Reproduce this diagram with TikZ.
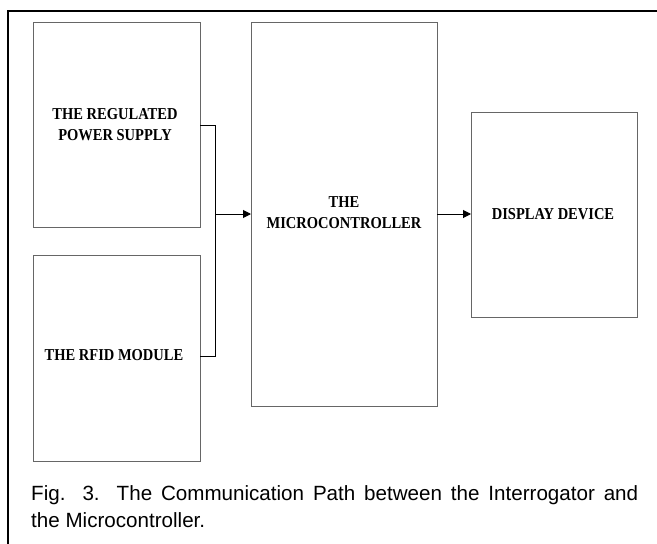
\documentclass[tikz,border=0pt]{standalone}
\usepackage{fontspec}
\setmainfont{Liberation Serif}
\newfontfamily\capfont{Liberation Sans}
\usetikzlibrary{arrows.meta}
\newcommand{\tallbox}[1]{\scalebox{1}[1.15]{\begin{tabular}{@{}c@{}}#1\end{tabular}}}
\begin{document}
\begin{tikzpicture}[x=1pt,y=-1pt,
  blockbox/.style={draw=black!60, line width=1pt},
  blocklabel/.style={font=\fontsize{14.5}{18}\selectfont\bfseries, inner sep=0pt},
  conn/.style={draw=black, line width=1pt},
  arr/.style={conn, -{Triangle[length=8pt,width=8pt]}}]
\useasboundingbox (0,0) rectangle (657,544);
\fill[white] (0,0) rectangle (657,544);
% outer frame
\coordinate (fbl) at (8,544);
\coordinate (ftl) at (8,11);
\coordinate (ftr) at (657,11);
\draw[line width=2pt] (fbl) -- (ftl) -- (ftr);
% blocks
\draw[blockbox] (33,22) rectangle (200,227);
\draw[blockbox] (33,255) rectangle (200,461);
\draw[blockbox] (251,22) rectangle (437,406);
\draw[blockbox] (471,112) rectangle (637,317);
\node[blocklabel] (ps) at (115,126) {\tallbox{THE REGULATED\\POWER SUPPLY}};
\node[blocklabel] (rfid) at (114,356) {\tallbox{THE RFID MODULE}};
\node[blocklabel] (mc) at (344,214) {\tallbox{THE\\MICROCONTROLLER}};
\node[blocklabel] (dd) at (553,215) {\tallbox{DISPLAY DEVICE}};
% anchors
\coordinate (psout) at (200,125);
\coordinate (rfout) at (200,356);
\coordinate (jt) at (215,125);
\coordinate (jb) at (215,356);
\coordinate (jm) at (215,214);
\coordinate (mcin) at (251,214);
\coordinate (mcout) at (437,214);
\coordinate (ddin) at (471,214);
\draw[conn] (psout) -- (jt) -- (jb) -- (rfout);
\draw[arr] (jm) -- (mcin);
\draw[arr] (mcout) -- (ddin);
% caption
\node[anchor=base west, align=left, inner sep=0pt,
  font=\capfont\fontsize{20.6}{27}\selectfont] (cap) at (31,527)
  {\makebox[607pt][s]{Fig. 3. The Communication Path between the Interrogator and}\\the Microcontroller.};
\end{tikzpicture}
\end{document}
